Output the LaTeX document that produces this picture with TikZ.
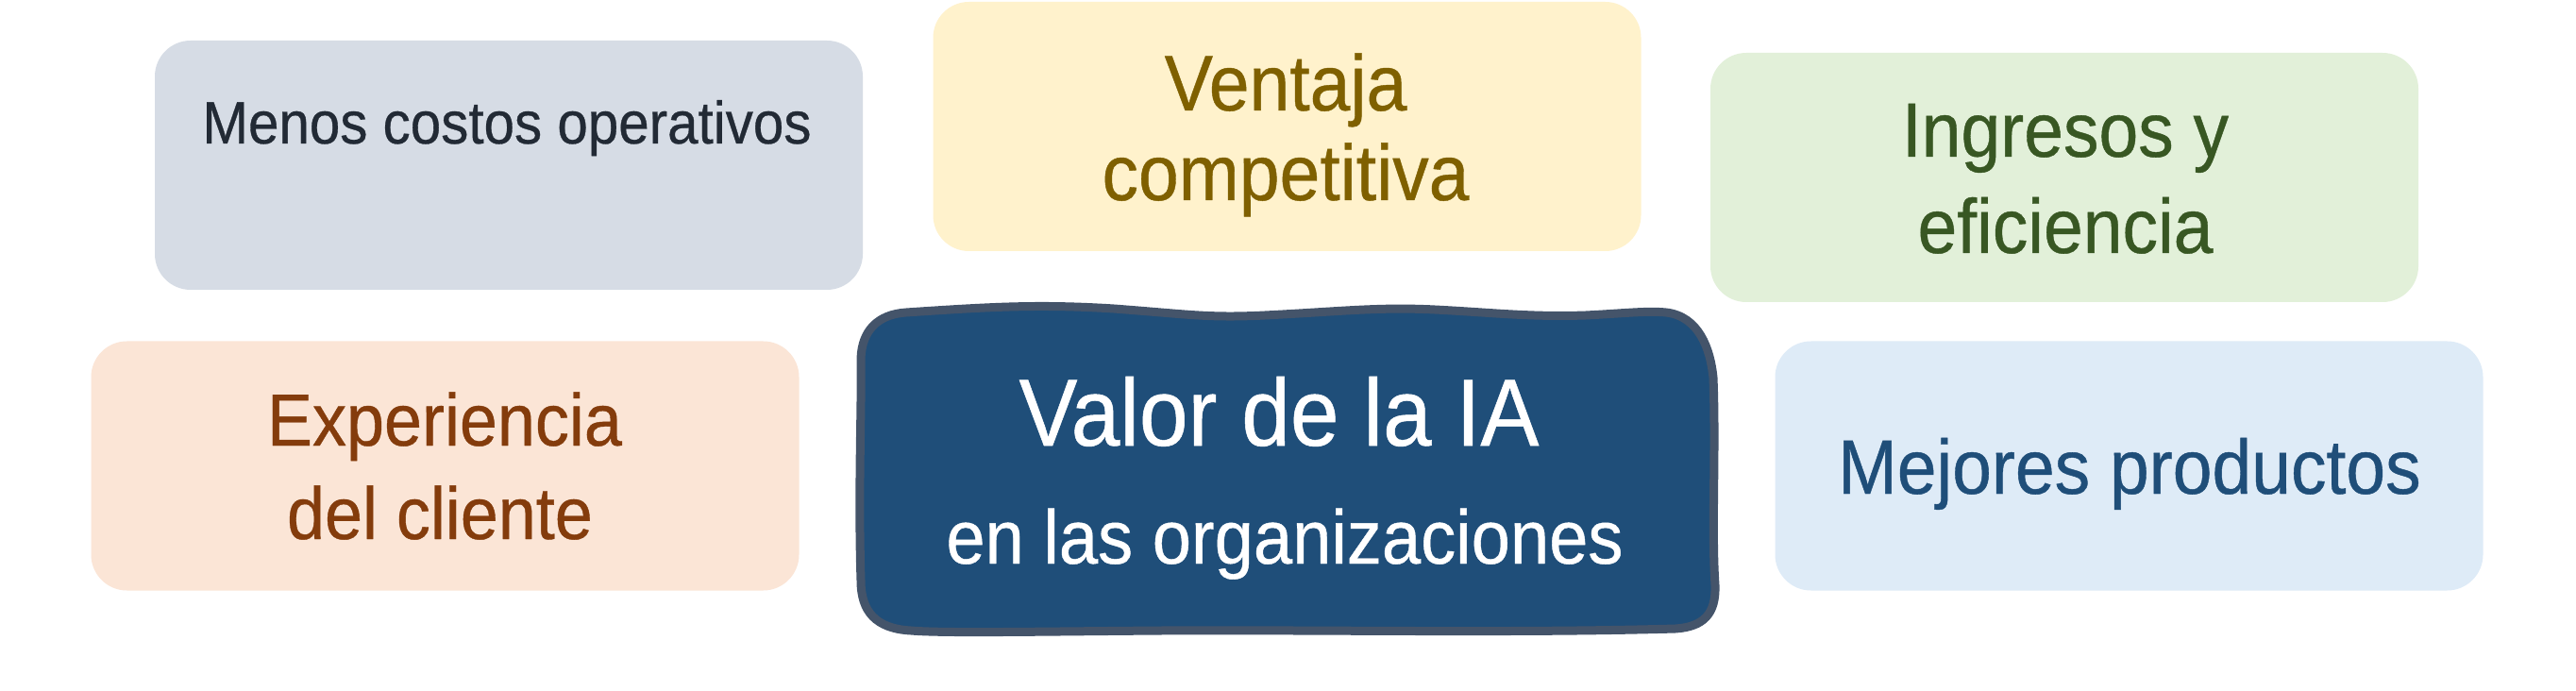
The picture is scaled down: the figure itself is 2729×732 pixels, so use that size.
\documentclass[tikz,border=0pt]{standalone}
\usepackage{fontspec}
\setmainfont{Liberation Sans}[FakeStretch=0.92, FakeBold=0.5]
\definecolor{fillA}{HTML}{D6DCE5}
\definecolor{textA}{HTML}{222A35}
\definecolor{fillB}{HTML}{FFF2CC}
\definecolor{textB}{HTML}{7F6000}
\definecolor{fillC}{HTML}{E2F0D9}
\definecolor{textC}{HTML}{385723}
\definecolor{fillD}{HTML}{FBE5D6}
\definecolor{textD}{HTML}{843C0C}
\definecolor{fillE}{HTML}{DEEBF7}
\definecolor{textE}{HTML}{1F4E79}
\definecolor{coreFill}{HTML}{1F4E79}
\definecolor{coreLine}{HTML}{44546A}
\begin{document}
\begin{tikzpicture}[x=0.5pt,y=-0.5pt,
  card/.style={rectangle, rounded corners=19pt, inner sep=0pt, draw=none,
    minimum width=375pt, minimum height=132pt},
  lbl/.style={anchor=base, inner sep=0pt}]
\useasboundingbox (0,0) rectangle (2729,732);
\fill[white] (0,0) rectangle (2729,732);

% cards
\node[card, fill=fillA] (b1) at (539,175) {};
\node[card, fill=fillB] (b2) at (1363.5,134) {};
\node[card, fill=fillC] (b3) at (2187,188) {};
\node[card, fill=fillD] (b4) at (471.5,493.5) {};
\node[card, fill=fillE] (b6) at (2255.5,493.5) {};

% central hand-drawn box
\draw[fill=coreFill, draw=coreLine, line width=4.5pt, line join=round]
  (960,331) .. controls (1050,325) and (1100,322) .. (1180,327)
  .. controls (1260,333) and (1280,337) .. (1340,334)
  .. controls (1420,330) and (1460,325) .. (1520,328)
  .. controls (1580,331) and (1620,336) .. (1680,334)
  .. controls (1720,332) and (1745,329) .. (1765,331)
  .. controls (1800,335) and (1812,370) .. (1815,400)
  .. controls (1818,480) and (1813,560) .. (1817,620)
  .. controls (1818,650) and (1805,664) .. (1775,666)
  .. controls (1600,671) and (1400,667) .. (1230,668)
  .. controls (1100,669) and (1000,671) .. (965,668)
  .. controls (928,666) and (912,648) .. (912,615)
  .. controls (909,520) and (913,430) .. (912,380)
  .. controls (913,350) and (930,333) .. (960,331) -- cycle;
\coordinate (b5) at (1364,499);

% labels
\node[lbl, text=textA, font=\fontsize{31.7}{38}\selectfont] (t1) at (537,152) {Menos costos operativos};
\node[lbl, text=textB, font=\fontsize{41.8}{50}\selectfont] (t2a) at (1362,117) {Ventaja};
\node[lbl, text=textB, font=\fontsize{41.8}{50}\selectfont] (t2b) at (1362,212) {competitiva};
\node[lbl, text=textC, font=\fontsize{40.8}{49}\selectfont] (t3a) at (2188,166) {Ingresos y};
\node[lbl, text=textC, font=\fontsize{40.8}{49}\selectfont] (t3b) at (2188,268) {eficiencia};
\node[lbl, text=textD, font=\fontsize{39.1}{47}\selectfont] (t4a) at (471,472) {Experiencia};
\node[lbl, text=textD, font=\fontsize{39.1}{47}\selectfont] (t4b) at (466,571) {del cliente};
\node[lbl, text=white, font=\fontsize{50.5}{60}\selectfont] (t5a) at (1355,472) {Valor de la IA};
\node[lbl, text=white, font=\fontsize{40.3}{48}\selectfont] (t5b) at (1361,597) {en las organizaciones};
\node[lbl, text=textE, font=\fontsize{40.8}{49}\selectfont] (t6) at (2256,523) {Mejores productos};
\end{tikzpicture}
\end{document}
